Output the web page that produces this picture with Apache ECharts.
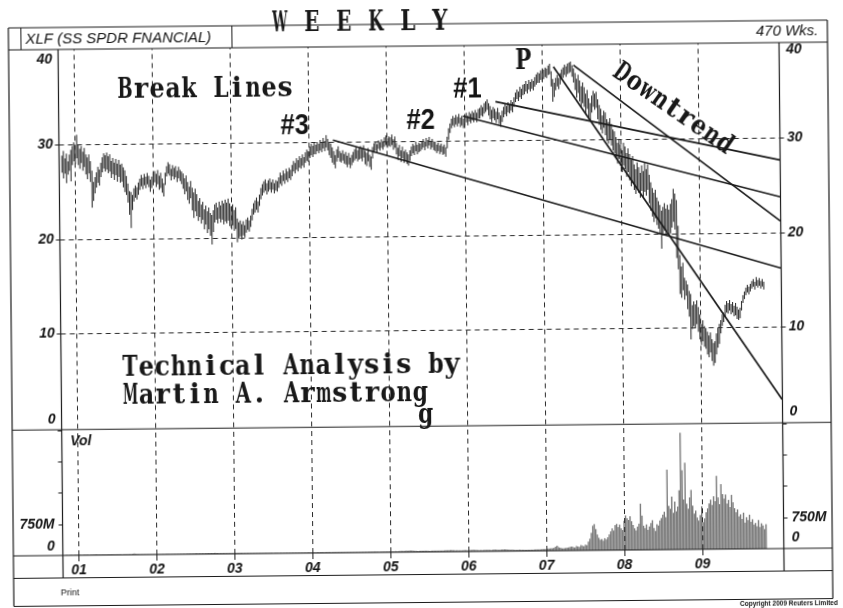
<!DOCTYPE html>
<html><head><meta charset="utf-8">
<script src="https://cdn.jsdelivr.net/npm/echarts@6/dist/echarts.min.js"></script>
<style>
html,body{margin:0;padding:0;background:#fff;overflow:hidden;width:843px;height:608px}
#c{width:843px;height:618px;transform:rotate(-0.55deg);transform-origin:421.5px 304px;background:#fff}
</style></head><body><div id="c"></div>
<script>
// ---- data (weekly bars) ----
const firstWeek = 2000.831;          // decimal year of the first weekly bar
const weekStep = 7 / 365.25;
const xMin = 2000.795, xMax = 2010.045;

const high = [
28.8,29.3,28.5,29.0,28.2,28.9,29.4,29.8,30.2,29.9,
31.0,30.0,29.5,29.8,29.2,29.6,28.9,28.6,28.9,28.2,
27.2,26.0,26.5,27.0,27.6,27.3,28.0,28.6,29.0,28.8,
29.1,28.7,28.9,28.2,28.5,28.0,28.4,27.9,28.3,27.8,
27.9,27.5,27.2,26.6,25.8,25.0,24.9,24.6,25.3,25.6,
25.4,25.9,26.3,26.7,26.4,26.8,26.5,26.9,26.6,26.2,
26.5,26.9,27.1,26.8,27.2,26.6,26.9,26.3,25.8,26.9,
27.6,28.0,27.8,27.3,27.7,27.4,27.6,27.1,27.5,27.2,
27.0,26.8,26.3,26.6,25.9,25.4,26.0,25.3,24.8,25.2,
24.6,23.9,24.2,23.5,23.8,23.0,23.4,22.8,23.2,22.6,
22.4,22.9,23.5,23.7,23.2,23.8,23.4,23.9,23.6,24.0,
23.7,24.1,23.6,23.3,23.5,22.9,23.2,22.0,21.6,21.8,
21.4,21.7,21.3,21.9,22.1,21.8,22.3,23.0,23.6,23.9,
24.2,23.8,24.5,25.2,25.6,25.9,26.1,25.7,26.0,26.2,
25.8,26.1,25.7,26.0,25.9,26.3,26.8,26.5,27.0,26.7,
27.2,26.9,27.3,27.1,27.6,28.0,27.8,28.3,28.1,28.5,
28.3,28.7,28.4,28.9,29.2,29.0,29.5,29.8,29.6,29.9,
29.7,30.0,29.8,30.2,30.0,30.4,30.1,30.7,30.3,30.0,
29.8,29.4,29.0,28.6,29.2,29.5,29.0,28.8,29.1,28.7,
28.9,28.5,28.8,28.3,28.6,28.9,29.2,29.4,29.1,29.3,
29.5,29.2,29.6,29.0,28.8,29.3,28.6,28.4,29.4,29.8,
30.0,29.7,30.1,29.9,30.2,30.0,30.4,30.6,30.3,30.5,
30.4,30.7,30.2,30.5,29.8,29.3,29.6,29.0,29.4,28.9,
29.1,28.8,28.6,29.0,29.4,29.7,29.5,29.9,29.6,29.8,
29.7,30.0,30.2,29.9,30.3,30.1,30.4,30.0,30.2,29.9,
29.9,29.6,29.8,29.5,29.7,29.4,29.6,29.3,30.4,31.3,
31.8,32.3,32.6,32.4,32.7,32.5,32.8,32.4,32.6,32.3,
32.7,32.9,32.6,33.0,32.8,33.1,32.9,33.2,32.9,33.3,
33.4,33.7,33.5,33.9,34.1,34.3,33.9,33.6,33.2,33.5,
33.3,33.0,33.4,32.9,32.6,33.1,33.5,33.8,33.6,34.0,
33.8,34.2,34.0,34.5,35.0,35.3,35.1,35.6,35.4,35.8,
35.9,36.2,35.9,36.3,36.1,36.4,36.2,36.6,36.9,37.1,
37.0,37.3,37.1,37.4,37.6,37.5,37.8,38.0,37.2,36.4,
36.0,36.5,36.8,36.5,37.0,37.4,37.6,37.9,37.7,38.0,
38.1,38.2,37.8,37.5,37.0,36.4,36.8,36.2,35.6,36.0,
35.5,34.8,35.2,34.3,33.8,34.6,35.1,34.8,35.0,34.2,
33.6,33.2,32.5,33.0,32.8,32.1,31.8,32.2,31.6,31.0,
30.8,30.2,29.6,30.0,29.4,28.8,29.6,29.2,28.5,29.0,
28.4,27.8,28.2,27.3,26.8,27.5,27.0,26.4,27.2,26.6,
27.5,26.8,27.3,26.2,25.4,24.8,24.3,24.6,23.8,23.4,
23.0,22.4,22.8,23.2,22.6,23.0,22.5,23.1,23.6,24.7,
24.2,23.5,20.8,17.7,16.5,16.9,15.3,15.0,14.6,13.9,
13.6,12.4,12.8,12.5,12.9,12.2,11.4,10.4,10.8,10.2,
10.0,9.6,9.2,9.5,8.8,8.4,8.6,9.4,10.0,10.4,
10.8,11.4,11.6,12.4,12.8,12.6,12.9,12.5,12.7,12.3,
12.6,12.2,11.9,12.1,12.8,13.4,13.8,14.2,14.5,14.3,
14.6,14.9,15.1,14.8,15.3,15.0,15.2,14.9,15.1,14.8
];
const low = [
27.0,26.4,26.9,25.9,26.8,27.2,26.1,27.8,28.2,27.9,
28.5,27.8,27.4,28.0,27.2,27.6,26.8,26.3,26.9,26.0,
23.3,24.0,24.8,25.4,25.9,25.6,26.5,27.0,27.4,27.1,
27.3,26.9,27.1,26.4,26.8,26.2,26.7,26.0,26.5,25.9,
26.0,25.4,24.9,24.6,23.8,22.5,21.1,23.0,23.9,24.3,
24.1,24.6,25.1,25.5,25.2,25.6,25.3,25.7,25.4,24.9,
25.3,25.6,25.9,25.4,25.7,25.1,25.3,24.8,24.4,25.6,
26.5,26.8,26.6,26.1,26.5,26.2,26.4,25.9,26.3,26.0,
25.7,25.2,24.6,24.9,24.0,23.6,24.2,22.9,22.1,22.8,
22.3,21.8,22.2,21.5,21.9,20.9,21.4,20.5,20.9,20.2,
19.3,20.6,21.6,21.9,21.5,22.0,21.6,21.9,21.4,21.7,
21.5,21.8,21.2,21.0,21.3,20.7,20.9,19.5,19.9,20.1,
19.8,20.2,20.0,20.5,20.8,20.6,21.1,21.8,22.4,22.6,
22.9,22.6,23.3,24.0,24.4,24.7,24.9,24.5,24.8,25.0,
24.7,25.0,24.6,24.9,24.8,25.2,25.6,25.4,25.9,25.6,
26.0,25.8,26.2,26.0,26.4,26.9,26.7,27.1,26.9,27.3,
27.2,27.5,27.3,27.8,28.0,27.9,28.3,28.6,28.4,28.7,
28.7,29.0,28.8,29.1,28.9,29.3,29.0,29.4,29.1,28.6,
28.3,27.8,27.6,27.2,27.9,28.3,27.9,27.8,28.0,27.7,
27.6,27.3,27.6,27.2,27.5,27.8,28.0,28.2,27.9,28.1,
28.2,27.9,28.3,27.6,27.4,27.9,27.3,27.0,28.2,28.8,
29.0,28.8,29.2,29.0,29.3,29.1,29.4,29.6,29.3,29.5,
29.4,29.6,29.1,29.3,28.6,28.0,28.4,27.8,28.2,27.7,
27.9,27.6,27.4,27.9,28.4,28.7,28.5,28.9,28.6,28.8,
28.9,29.1,29.3,29.0,29.4,29.2,29.5,29.1,29.3,29.0,
28.9,28.7,28.9,28.6,28.8,28.5,28.6,28.3,29.2,30.1,
30.8,31.3,31.6,31.4,31.7,31.5,31.8,31.4,31.6,31.3,
31.6,31.9,31.6,32.0,31.8,32.1,31.9,32.2,31.9,32.3,
32.3,32.6,32.5,32.8,33.0,33.2,32.6,32.2,31.9,32.3,
32.1,31.8,32.2,31.7,31.4,31.9,32.4,32.7,32.5,32.9,
32.8,33.1,32.9,33.5,34.0,34.3,34.1,34.5,34.3,34.7,
34.8,35.1,34.9,35.3,35.1,35.4,35.2,35.6,35.8,36.0,
36.0,36.3,36.1,36.4,36.6,36.5,36.8,36.9,35.6,34.0,
34.5,35.2,35.6,35.3,35.8,36.3,36.5,36.8,36.6,36.9,
37.0,37.1,36.6,36.0,35.2,34.4,34.9,34.0,33.5,33.8,
33.4,32.6,33.2,32.3,32.0,32.8,33.4,33.1,33.3,32.1,
31.5,31.0,30.6,31.2,30.4,29.8,29.5,29.9,29.3,28.8,
28.5,27.9,27.4,27.9,27.2,26.5,27.2,26.8,26.0,26.5,
25.6,25.0,25.4,24.6,24.2,24.8,24.3,23.8,24.5,23.9,
24.4,24.0,24.6,23.2,22.4,21.8,21.2,21.6,20.9,20.5,
19.9,18.4,19.8,20.3,19.9,20.2,19.7,20.0,20.6,21.2,
20.4,17.4,16.2,13.6,13.2,14.0,13.0,13.4,12.0,11.2,
8.8,9.9,10.2,10.0,10.4,9.6,8.8,8.2,8.6,8.0,
7.8,7.2,6.9,7.4,6.5,6.0,6.3,7.2,7.9,8.3,
9.4,10.2,10.6,11.2,11.6,11.5,11.8,11.4,11.6,11.2,
11.3,10.9,10.8,11.0,11.8,12.6,13.0,13.4,13.7,13.5,
13.8,14.1,14.3,14.0,14.4,14.2,14.4,14.1,14.3,14.0
];
// weekly volume, millions of shares
const volume = [
8,10,9,12,11,9,10,13,12,10, 11,9,10,12,10,11,9,12,14,13,
18,15,12,11,10,12,11,9,10,11, 10,12,11,9,10,11,12,10,9,11,
12,11,13,14,15,22,28,19,16,14, 13,12,11,12,13,12,11,12,13,12,
12,13,12,11,12,14,15,13,16,14, 13,12,14,13,12,13,14,15,14,16,
15,16,18,17,19,18,20,22,24,21, 22,20,23,21,24,26,22,25,24,27,
28,24,22,21,20,19,21,20,19,18, 19,20,18,19,21,22,20,24,22,21,
20,19,21,20,18,19,18,17,18,19, 18,17,16,17,18,16,15,16,17,15,
15,16,14,15,16,15,14,15,16,15, 14,15,16,14,15,13,14,15,14,13,
14,15,14,16,15,14,13,15,14,16, 15,16,17,15,16,18,17,16,15,17,
18,17,19,18,20,19,18,17,19,18, 17,18,16,17,18,19,17,18,19,20,
19,21,20,22,24,21,23,25,22,20, 21,20,22,21,23,22,24,23,25,24,
26,28,25,27,29,31,33,30,34,32, 36,38,35,32,30,28,27,29,28,30,
29,31,30,28,27,29,28,30,31,29, 30,32,31,33,35,34,36,38,40,37,
35,33,34,32,31,33,32,34,35,33, 34,36,38,40,37,35,33,32,34,33,
35,34,36,37,35,33,38,42,40,36, 34,38,41,44,46,40,37,35,33,34,
32,31,30,33,34,32,31,30,29,31, 30,32,31,33,35,34,36,38,37,40,
42,45,48,52,55,60,58,72,95,120, 85,70,62,55,58,65,72,80,88,95,
78,70,110,95,85,130,115,100,140,125, 210,280,420,590,630,510,380,300,250,270,
230,290,260,310,380,450,520,470,600,630, 550,610,520,480,700,830,760,720,810,690,
600,520,470,560,630,1110,820,580,520,610, 480,560,640,710,520,450,610,580,700,760,
840,910,780,1920,1050,980,1270,880,1150,920, 1030,1420,2800,1900,1200,2080,1100,980,1250,1430,
1050,860,930,760,690,820,1030,650,740,890, 980,1100,1190,1060,1270,1150,1760,1240,1080,1560,
1320,1210,1310,1090,1180,1010,1300,1120,980,880, 950,780,830,720,870,630,760,690,820,650,
710,580,620,540,690,520,610,560,470,590
];
const priceTicks = [0, 10, 20, 30, 40];
const volTicks = [0, 750, 1500, 2250, 3000];      // millions
const yearTicks = [2001, 2002, 2003, 2004, 2005, 2006, 2007, 2008, 2009];
const yearLabels = ['01', '02', '03', '04', '05', '06', '07', '08', '09'];

// break / trend lines: [decimal year, price]
const line1 = [[2006.40, 34.05], [2010.04, 27.62]];
const line2 = [[2005.98, 32.57], [2010.04, 23.74]];
const line3 = [[2004.31, 30.17], [2010.04, 16.23]];
const downFromP = [[2007.147, 37.68], [2010.04, 2.4]];
const downTrend = [[2007.404, 37.83], [2010.04, 21.2]];

// ---- build ----
const weekX = high.map((_, i) => firstWeek + i * weekStep);
const priceData = high.map((h, i) => [weekX[i], low[i], h]);
const volData = volume.map((v, i) => [weekX[i], v]);

const chart = echarts.init(document.getElementById('c'), null, {renderer: 'canvas'});
const INK = '#1c1c1c';
const LBL = {fontStyle: 'italic', fontWeight: 'bold', fontSize: 14, fontFamily: 'Liberation Sans, Arial, sans-serif', color: '#151515'};
const dashed = {type: [5, 4], color: '#2a2a2a', width: 1};
const yearMarks = {
  silent: true, symbol: 'none', animation: false,
  label: {show: false}, lineStyle: dashed,
  data: yearTicks.map(y => ({xAxis: y}))
};
const trendSeries = (d) => ({
  type: 'line', xAxisIndex: 0, yAxisIndex: 0, data: d, symbol: 'none', silent: true,
  lineStyle: {color: INK, width: 1.7}, z: 5
});

const option = {
  animation: false,
  backgroundColor: '#fff',
  grid: [
    {left: 60.5, right: 61.5, top: 46, height: 379.5},
    {left: 60.5, right: 61.5, top: 427, height: 125}
  ],
  xAxis: [
    {type: 'value', gridIndex: 0, min: xMin, max: xMax, show: false},
    {type: 'value', gridIndex: 1, min: xMin, max: xMax,
     axisLine: {show: false}, splitLine: {show: false},
     axisTick: {show: true, customValues: yearTicks, length: 6, lineStyle: {color: INK}},
     axisLabel: Object.assign({show: true, customValues: yearTicks, margin: 8,
       formatter: v => yearLabels[yearTicks.indexOf(Math.round(v))] || ''}, LBL)}
  ],
  yAxis: [
    {type: 'value', gridIndex: 0, min: priceTicks[0], max: priceTicks[4], interval: 10, position: 'left',
     axisLine: {show: false}, axisTick: {show: true, length: 4, lineStyle: {color: INK}},
     axisLabel: Object.assign({margin: 6, showMinLabel: false, showMaxLabel: false}, LBL),
     splitLine: {show: true, showMinLine: false, showMaxLine: false, lineStyle: dashed}},
    {type: 'value', gridIndex: 0, min: priceTicks[0], max: priceTicks[4], interval: 10, position: 'right',
     axisLine: {show: false}, axisTick: {show: true, length: 4, lineStyle: {color: INK}},
     axisLabel: Object.assign({margin: 7, showMinLabel: false, showMaxLabel: false}, LBL),
     splitLine: {show: false}},
    {type: 'value', gridIndex: 1, min: volTicks[0], max: volTicks[4], interval: 750, position: 'left',
     axisLine: {show: false}, axisTick: {show: true, length: 4, lineStyle: {color: INK}},
     axisLabel: Object.assign({margin: 8, showMinLabel: false, formatter: v => v === volTicks[1] ? '750M' : ''}, LBL),
     splitLine: {show: false}},
    {type: 'value', gridIndex: 1, min: volTicks[0], max: volTicks[4], interval: 750, position: 'right',
     axisLine: {show: false}, axisTick: {show: true, length: 4, lineStyle: {color: INK}},
     axisLabel: Object.assign({margin: 8, showMinLabel: false, formatter: v => v === volTicks[1] ? '750M' : ''}, LBL),
     splitLine: {show: false}}
  ],
  series: [
    {type: 'custom', name: 'XLF', xAxisIndex: 0, yAxisIndex: 0, data: priceData,
     encode: {x: 0, y: [1, 2]}, silent: true, z: 3,
     renderItem: (params, api) => {
       const a = api.coord([api.value(0), api.value(1)]);
       const b = api.coord([api.value(0), api.value(2)]);
       return {type: 'line', shape: {x1: a[0], y1: a[1], x2: b[0], y2: b[1]},
               style: {stroke: '#333', lineWidth: 1.1}};
     }},
    Object.assign(trendSeries(line3), {markLine: yearMarks}),
    trendSeries(line2),
    trendSeries(line1),
    trendSeries(downFromP),
    trendSeries(downTrend),
    {type: 'bar', name: 'Vol', xAxisIndex: 1, yAxisIndex: 2, data: volData, barWidth: 1.4,
     itemStyle: {color: '#7a7a7a'}, silent: true, markLine: yearMarks}
  ]
};
chart.setOption(option);

// ---- frame, labels and annotations ----
const px = (xa, v) => chart.convertToPixel({xAxisIndex: xa}, v);
const py = (ya, v) => chart.convertToPixel({yAxisIndex: ya}, v);
const axL = px(0, xMin), axR = px(0, xMax);
const pTop = py(0, priceTicks[4]), pBot = py(0, priceTicks[0]);
const vTop = py(2, volTicks[4]), vBot = py(2, volTicks[0]);
const frameL = 11, frameR = 830, frameT = 24, frameB = 602.5, stripB = 574.5, hdrB = pTop;
const line = (x1, y1, x2, y2, w) => ({type: 'line', silent: true, z: 10,
  shape: {x1, y1, x2, y2}, style: {stroke: INK, lineWidth: w || 1.2}});
const txt = (text, x, y, font, opts) => Object.assign({type: 'text', silent: true, z: 20, x, y,
  style: Object.assign({text, font, fill: '#141414', textAlign: 'center', textVerticalAlign: 'middle',
    align: 'center', verticalAlign: 'middle'}, (opts && opts.style) || {})}, (opts && opts.el) || {});
const axFont = 'italic bold 14px "Liberation Sans", Arial, sans-serif';
const rightStyle = {style: {textAlign: 'right', align: 'right'}};
const leftStyle = {style: {textAlign: 'left', align: 'left'}};

// typewriter captions: one glyph per fixed-pitch cell, like the original typed labels
const typeFont = 'bold 27px "DejaVu Serif", "Liberation Serif", serif';
const meas = document.createElement('canvas').getContext('2d');
const typed = (text, cx, cy, pitch, rot) => {
  meas.font = typeFont;
  const n = text.length, children = [];
  for (let i = 0; i < n; i++) {
    const ch = text[i];
    if (ch === ' ') continue;
    const w = meas.measureText(ch).width;
    const s = Math.min(1, pitch * 0.95 / w);
    children.push({type: 'text', x: (i - (n - 1) / 2) * pitch, y: 0, scaleX: s, z: 20, silent: true,
      style: {text: ch, font: typeFont, fill: '#181818',
        textAlign: 'center', textVerticalAlign: 'middle', align: 'center', verticalAlign: 'middle'}});
  }
  return {type: 'group', x: cx, y: cy, rotation: rot || 0, silent: true, z: 20, children};
};
const numFont = 'bold 29px "Liberation Sans", Arial, sans-serif';

const g = [
  // outer frame and panel rules
  line(frameL, frameT, frameR, frameT), line(frameL, frameB, frameR, frameB),
  line(frameL, frameT, frameL, frameB), line(frameR, frameT, frameR, frameB),
  line(frameL, hdrB, frameR, hdrB), line(frameL, (pBot + vTop) / 2, frameR, (pBot + vTop) / 2),
  line(frameL, vBot, frameR, vBot), line(frameL, stripB, frameR, stripB),
  line(axL, hdrB, axL, stripB), line(axR, hdrB, axR, stripB),
  line(23.5, frameT, 23.5, hdrB, 1), line(234.5, frameT, 234.5, hdrB, 1),
  // header
  txt('XLF (SS SPDR FNANCIAL)', 28, 35.5, 'italic 15px "Liberation Sans", Arial, sans-serif', leftStyle),
  txt('470 Wks.', 821, 34.5, 'italic 15px "Liberation Sans", Arial, sans-serif', rightStyle),
  typed('W E E K L Y', 362.7, 23, 16),
  // edge tick labels
  txt(String(priceTicks[4]), axL - 6, pTop + 10.5, axFont, rightStyle),
  txt(String(priceTicks[0]), axL - 6, pBot - 9.5, axFont, rightStyle),
  txt(String(priceTicks[4]), axR + 7, pTop + 7.5, axFont, leftStyle),
  txt(String(priceTicks[0]), axR + 7, pBot - 10.5, axFont, leftStyle),
  txt(String(volTicks[0]), axL - 8, vBot - 9, axFont, rightStyle),
  txt(String(volTicks[0]), axR + 8, vBot - 11, axFont, leftStyle),
  txt('Vol', axL + 8.5, vTop + 11.5, axFont, leftStyle),
  // annotations
  typed('Break Lines', 207, 88, 16),
  txt('#3', 296.5, 125, numFont, {el: {scaleX: 0.88}}),
  txt('#2', 422.5, 120.5, numFont, {el: {scaleX: 0.88}}),
  txt('#1', 469.5, 89.5, numFont, {el: {scaleX: 0.88}}),
  typed('P', 525.5, 62.5, 17),
  typed('Downtrend', 674.6, 111.5, 15.6, -0.616),
  typed('Technical Analysis by', 290.5, 366, 16.1),
  typed('Martin A. Armstrong', 274.5, 394, 16.1),
  typed('g', 424.5, 416, 16),
  // footer
  txt('Print', 58, 589.5, '9px "Liberation Sans", Arial, sans-serif', leftStyle),
  txt('Copyright 2009 Reuters Limited', 786, 607, 'bold 6.5px "Liberation Sans", Arial, sans-serif')
];
chart.setOption({graphic: g});
</script></body></html>
